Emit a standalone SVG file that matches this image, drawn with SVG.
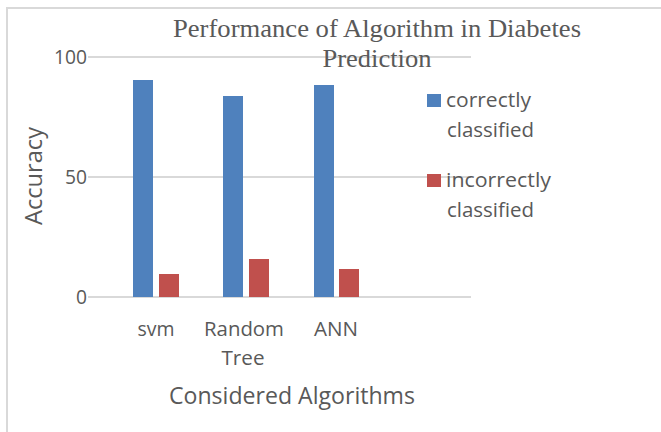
<svg xmlns="http://www.w3.org/2000/svg" width="661" height="432" viewBox="0 0 661 432">
<style>
.lbl{font-family:"Open Sans","Liberation Sans",sans-serif;fill:#595959;}
.title{font-family:"Liberation Serif","Times New Roman",serif;fill:#595959;font-size:26px;}
.grid{stroke:#d9d9d9;stroke-width:2;}
.blue{fill:#4f81bd;}
.red{fill:#c0504d;}
</style>
<rect width="661" height="432" fill="#fff"/>
<g id="frame">
<path d="M7 432 V8 H661" fill="none" stroke="#d9d9d9" stroke-width="2"/>
</g>
<g id="gridlines">
<line class="grid" x1="88" y1="57" x2="471" y2="57"/>
<line class="grid" x1="88" y1="177" x2="471" y2="177"/>
<line class="grid" x1="88" y1="297" x2="471" y2="297"/>
</g>
<g id="title">
<text class="title" x="377" y="37" text-anchor="middle" textLength="408" lengthAdjust="spacingAndGlyphs">Performance of Algorithm in Diabetes</text>
<text class="title" x="377" y="67" text-anchor="middle" textLength="109" lengthAdjust="spacingAndGlyphs">Prediction</text>
</g>
<g id="yaxis" class="lbl" font-size="20" text-anchor="end">
<text x="87" y="64" textLength="33" lengthAdjust="spacingAndGlyphs">100</text>
<text x="87" y="184" textLength="22" lengthAdjust="spacingAndGlyphs">50</text>
<text x="87" y="304" textLength="11" lengthAdjust="spacingAndGlyphs">0</text>
</g>
<g id="ytitle">
<text class="lbl" font-size="23" text-anchor="middle" transform="translate(42 176) rotate(-90)" textLength="98" lengthAdjust="spacingAndGlyphs">Accuracy</text>
</g>
<g id="bars">
<rect class="blue" x="133" y="80" width="20" height="217"/>
<rect class="red" x="159" y="274" width="20" height="23"/>
<rect class="blue" x="223" y="96" width="20" height="201"/>
<rect class="red" x="249" y="259" width="20" height="38"/>
<rect class="blue" x="314" y="85" width="20" height="212"/>
<rect class="red" x="339" y="269" width="20" height="28"/>
</g>
<g id="xaxis" class="lbl" font-size="20" text-anchor="middle">
<text x="156" y="336" textLength="37" lengthAdjust="spacingAndGlyphs">svm</text>
<text x="244" y="336" textLength="80" lengthAdjust="spacingAndGlyphs">Random</text>
<text x="243" y="365" textLength="43" lengthAdjust="spacingAndGlyphs">Tree</text>
<text x="336" y="336" textLength="44" lengthAdjust="spacingAndGlyphs">ANN</text>
</g>
<g id="xtitle">
<text class="lbl" font-size="23" x="292" y="404" text-anchor="middle" textLength="246" lengthAdjust="spacingAndGlyphs">Considered Algorithms</text>
</g>
<g id="legend" class="lbl" font-size="20">
<rect class="blue" x="427" y="94" width="14" height="13"/>
<text x="446" y="107" textLength="85" lengthAdjust="spacingAndGlyphs">correctly</text>
<text x="447" y="137" textLength="87" lengthAdjust="spacingAndGlyphs">classified</text>
<rect class="red" x="427" y="174" width="14" height="13"/>
<text x="446" y="187" textLength="105" lengthAdjust="spacingAndGlyphs">incorrectly</text>
<text x="447" y="217" textLength="87" lengthAdjust="spacingAndGlyphs">classified</text>
</g>
</svg>
